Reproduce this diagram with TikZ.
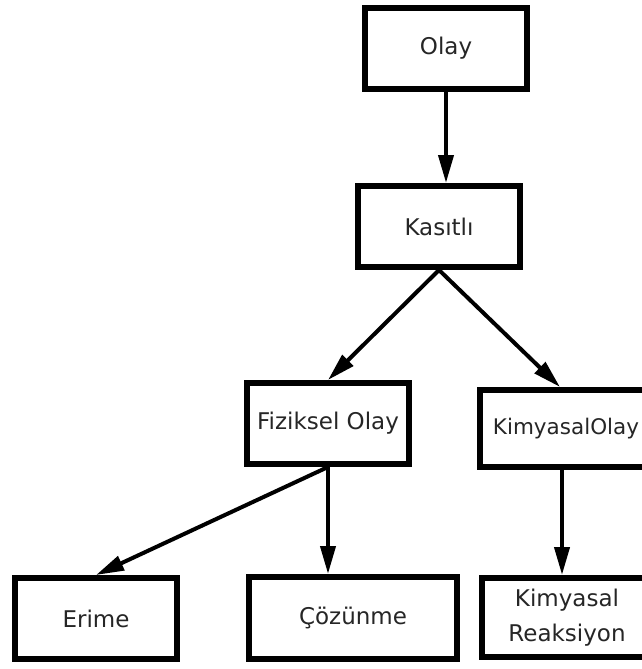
\documentclass[tikz,border=0pt]{standalone}
\usepackage{fontspec}
\setmainfont{DejaVu Sans}
\usetikzlibrary{arrows.meta}
\tikzset{
  box/.style={draw=black, line width=6pt, fill=white, rectangle, inner sep=0pt,
    minimum width=162pt, minimum height=81pt, align=center,
    font=\fontsize{23}{35}\selectfont, text=black!85},
  conn/.style={line width=4pt, -{Triangle[length=28pt,width=15pt]}}
}
\begin{document}
\begin{tikzpicture}[x=1pt,y=-1pt]
\useasboundingbox (0,0) rectangle (642,669);
\clip (0,0) rectangle (642,669);
\fill[white] (0,0) rectangle (642,669);
\node[box] (olay) at (446,48.5) {Olay};
\node[box] (kasitli) at (439,226.5) {Kasıtlı};
\node[box] (fiz) at (328,423.5) {Fiziksel Olay};
\node[box, minimum width=172pt, minimum height=77pt, font=\fontsize{21.5}{30}\selectfont] (kim) at (566,428.5) {KimyasalOlay};
\node[box] (erime) at (96,618.5) {Erime};
\node[box, minimum width=208pt, minimum height=82pt] (coz) at (353,618) {Çözünme};
\node[box, minimum width=170pt, minimum height=79pt] (reak) at (567,617.5) {Kimyasal\\Reaksiyon};
\draw[conn] (olay.south) -- (olay.south |- kasitli.north);
\draw[conn] (kasitli.south) -- ([xshift=-6pt]kim.north);
\draw[conn] (kasitli.south) -- (fiz.north);
\draw[conn] (fiz.south) -- (erime.north);
\draw[conn] (fiz.south) -- (fiz.south |- coz.north);
\draw[conn] ([xshift=-4pt]kim.south) -- ([xshift=-4pt]kim.south |- reak.north);
\end{tikzpicture}
\end{document}
